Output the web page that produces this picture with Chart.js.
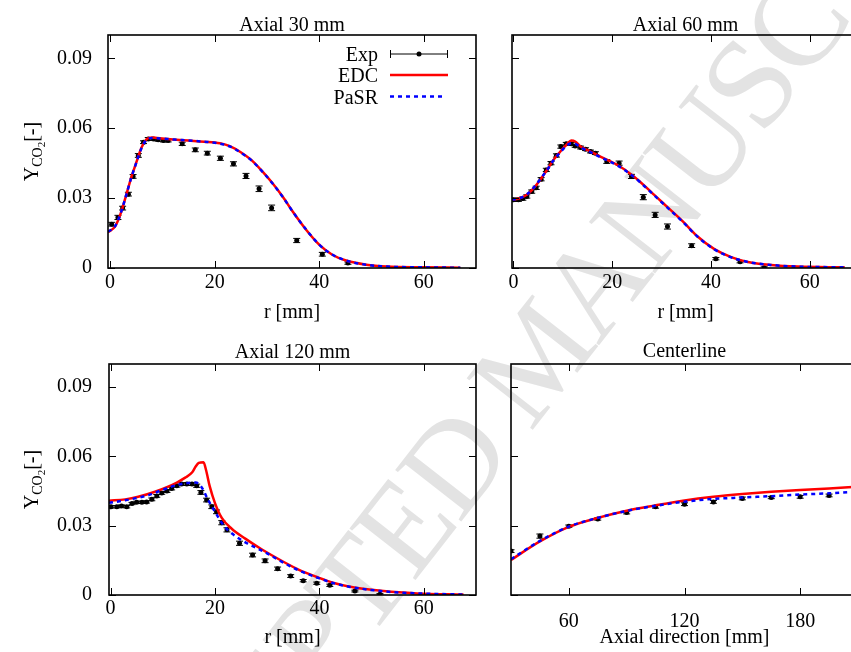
<!DOCTYPE html>
<html>
<head>
<meta charset="utf-8">
<title>Y_CO2 profiles</title>
<script src="https://cdn.jsdelivr.net/npm/chart.js@4.4.0/dist/chart.umd.min.js"></script>
<style>
  html, body { margin: 0; padding: 0; background: #fff; overflow: hidden; }
  #page { position: relative; width: 851px; height: 652px; overflow: hidden; }
  canvas { position: absolute; }
  #wm {
    position: absolute; left: 536px; top: 356px;
    font-family: 'Liberation Serif', serif; font-size: 128px; line-height: 1;
    letter-spacing: -4px;
    color: #e3e3e3; white-space: nowrap;
    transform: translate(-50%, -50%) rotate(-52deg);
  }
</style>
</head>
<body>
<div id="page">
  <div id="wm">ACCEPTED MANUSCRIPT</div>
  <canvas id="c30" width="480" height="330" style="left:0;top:0"></canvas>
  <canvas id="c60" width="400" height="330" style="left:480px;top:0"></canvas>
  <canvas id="c120" width="480" height="322" style="left:0;top:330px"></canvas>
  <canvas id="cCl" width="400" height="322" style="left:480px;top:330px"></canvas>
</div>
<script>
// tick labels
const yTicks = [0, 0.03, 0.06, 0.09];
const rTicks = [0, 20, 40, 60];
const zTicks = [60, 120, 180];

// Axial 30 mm
const r30Exp = [0.3, 1.5, 2.4, 3.5, 4.4, 5.4, 6.4, 7.3, 8.3, 9.2, 10.2, 11.1, 13.8, 16.3, 18.6, 21.1, 23.6, 26.0, 28.5, 30.9, 35.7, 40.6, 45.5];
const y30Exp = [0.0188, 0.0217, 0.0257, 0.0317, 0.0393, 0.0483, 0.0540, 0.0554, 0.0554, 0.0550, 0.0547, 0.0547, 0.0533, 0.0507, 0.0493, 0.0471, 0.0447, 0.0395, 0.0340, 0.0258, 0.0118, 0.0059, 0.0021];
const e30Exp = [0.0008, 0.0009, 0.0008, 0.0008, 0.0008, 0.0008, 0.0006, 0.0006, 0.0006, 0.0006, 0.0006, 0.0006, 0.0007, 0.0008, 0.0008, 0.0009, 0.0009, 0.0011, 0.0012, 0.0012, 0.0009, 0.0008, 0.0005];
const r30Mod = [-0.4, 1, 2, 3, 4, 5, 6, 7, 8, 9, 12, 15, 18, 21, 23, 25, 27, 29, 31, 33, 35, 37.5, 40, 42.5, 45, 49, 53, 60, 67];
const y30Edc = [0.0153, 0.0180, 0.0232, 0.0306, 0.0385, 0.0452, 0.0516, 0.0553, 0.0560, 0.0558, 0.0552, 0.0547, 0.0542, 0.0535, 0.0522, 0.0497, 0.0464, 0.0418, 0.0366, 0.0307, 0.0240, 0.0164, 0.0100, 0.0057, 0.0033, 0.0014, 0.0006, 0.0003, 0.0001];
const y30Pasr = [0.0155, 0.0181, 0.0233, 0.0306, 0.0384, 0.0451, 0.0514, 0.0551, 0.0558, 0.0557, 0.0552, 0.0547, 0.0542, 0.0534, 0.0521, 0.0495, 0.0463, 0.0417, 0.0365, 0.0306, 0.0240, 0.0165, 0.0100, 0.0058, 0.0033, 0.0014, 0.0006, 0.0003, 0.0001];

// Axial 60 mm
const r60Exp = [0, 1.0, 1.9, 2.7, 3.7, 4.6, 5.6, 6.65, 7.6, 8.7, 9.6, 10.7, 11.7, 12.5, 13.6, 14.6, 15.6, 16.6, 18.9, 21.4, 23.9, 26.3, 28.7, 31.2, 36.1, 41.0, 45.9, 50.8];
const y60Exp = [0.0293, 0.0293, 0.0298, 0.0307, 0.0328, 0.0344, 0.0381, 0.0421, 0.0450, 0.0483, 0.0521, 0.0533, 0.0533, 0.0524, 0.0517, 0.0510, 0.0500, 0.0493, 0.0457, 0.0450, 0.0393, 0.0304, 0.0228, 0.0178, 0.0096, 0.0040, 0.0027, 0.0001];
const e60Exp = [0.0007, 0.0007, 0.0007, 0.0007, 0.0007, 0.0007, 0.0007, 0.0007, 0.0007, 0.0007, 0.0007, 0.0006, 0.0006, 0.0006, 0.0006, 0.0006, 0.0006, 0.0006, 0.0008, 0.0009, 0.0009, 0.0011, 0.0011, 0.0011, 0.0008, 0.0005, 0.0005, 0.0004];
const r60Mod = [-0.3, 1.4, 2.7, 4.1, 5.4, 6.8, 8.1, 9.5, 10.9, 11.7, 12.5, 13.6, 15.6, 17.6, 21, 24.4, 27.8, 31.2, 34.3, 37.3, 40.7, 44.1, 47.5, 52.2, 57.6, 67.1];
const y60Edc = [0.0293, 0.0300, 0.0314, 0.0343, 0.0378, 0.0421, 0.0464, 0.0500, 0.0533, 0.0547, 0.0543, 0.0521, 0.0500, 0.0478, 0.0443, 0.0393, 0.0328, 0.0261, 0.0200, 0.0135, 0.0081, 0.0047, 0.0026, 0.0013, 0.0006, 0.0003];
const y60Pasr = [0.0293, 0.0301, 0.0316, 0.0345, 0.0380, 0.0421, 0.0462, 0.0497, 0.0527, 0.0535, 0.0533, 0.0518, 0.0497, 0.0476, 0.0441, 0.0391, 0.0326, 0.0259, 0.0198, 0.0134, 0.0080, 0.0046, 0.0026, 0.0013, 0.0006, 0.0003];

// Axial 120 mm
const r120Exp = [0.1, 1.2, 2.1, 3.1, 4.1, 5.0, 6.0, 6.9, 7.9, 8.85, 9.8, 10.8, 11.7, 12.7, 13.6, 14.6, 15.6, 16.5, 17.3, 18.4, 19.4, 20.3, 21.3, 22.3, 24.7, 27.2, 29.6, 32.0, 34.5, 36.9, 39.5, 42.0, 46.8, 51.6];
const y120Exp = [0.0382, 0.0382, 0.0385, 0.0382, 0.0396, 0.0401, 0.0401, 0.0403, 0.0414, 0.0429, 0.0442, 0.0450, 0.0461, 0.0473, 0.0480, 0.0480, 0.0480, 0.0473, 0.0444, 0.0411, 0.0382, 0.0360, 0.0313, 0.0282, 0.0224, 0.0173, 0.0148, 0.0114, 0.0082, 0.0062, 0.0051, 0.0042, 0.0017, 0.0003];
const e120Exp = [0.0005, 0.0005, 0.0005, 0.0005, 0.0005, 0.0005, 0.0005, 0.0005, 0.0006, 0.0006, 0.0006, 0.0006, 0.0006, 0.0006, 0.0006, 0.0006, 0.0006, 0.0007, 0.0008, 0.0008, 0.0008, 0.0008, 0.0009, 0.0009, 0.0009, 0.0008, 0.0008, 0.0007, 0.0006, 0.0005, 0.0005, 0.0005, 0.0004, 0.0003];
const r120Edc = [-0.3, 2.8, 5.3, 8.5, 10.8, 12.7, 14.3, 15.6, 16.3, 16.9, 17.8, 18.3, 19.0, 20.0, 21.3, 23.2, 25.8, 29.0, 33.1, 36.2, 39.4, 42.6, 45.9, 52.3, 58.7, 67.6];
const y120Edc = [0.0408, 0.0414, 0.0425, 0.0447, 0.0467, 0.0487, 0.0508, 0.0530, 0.0556, 0.0572, 0.0575, 0.0540, 0.0470, 0.0398, 0.0334, 0.0287, 0.0244, 0.0197, 0.0144, 0.0108, 0.0079, 0.0053, 0.0036, 0.0017, 0.0007, 0.0002];
const r120Pasr = [-0.3, 2.8, 7.2, 9.8, 12.7, 14.8, 16.3, 17.4, 18.7, 20.0, 21.6, 23.2, 26.3, 29.2, 33.1, 36.2, 39.4, 42.6, 45.9, 52.3, 58.7, 67.6];
const y120Pasr = [0.0399, 0.0410, 0.0432, 0.0454, 0.0476, 0.0485, 0.0487, 0.0468, 0.0411, 0.0360, 0.0303, 0.0267, 0.0222, 0.0190, 0.0140, 0.0105, 0.0077, 0.0052, 0.0035, 0.0016, 0.0007, 0.0002];

// Centerline
const zExp = [30, 45, 60, 75, 90, 105, 120, 135, 150, 165, 180, 195];
const yClExp = [0.0190, 0.0255, 0.0298, 0.0329, 0.0357, 0.0382, 0.0393, 0.0403, 0.0418, 0.0422, 0.0425, 0.0431];
const eClExp = [0.0006, 0.0009, 0.0005, 0.0005, 0.0006, 0.0006, 0.0006, 0.0006, 0.0006, 0.0005, 0.0006, 0.0006];
const zMod = [30, 45, 60, 75, 90, 105, 120, 135, 150, 165, 180, 195, 210];
const yClEdc = [0.0152, 0.0232, 0.0295, 0.0334, 0.0365, 0.0388, 0.0409, 0.0425, 0.0437, 0.0447, 0.0455, 0.0461, 0.0469];
const yClPasr = [0.0155, 0.0234, 0.0296, 0.0334, 0.0364, 0.0386, 0.0404, 0.0416, 0.0422, 0.0428, 0.0435, 0.0440, 0.0447];

Chart.defaults.font.family = "'Liberation Serif', 'Times New Roman', serif";
Chart.defaults.font.size = 20;
Chart.defaults.color = '#000';

let pts = (xs, ys) => xs.map((x, i) => ({ x: x, y: ys[i] }));

let panels = [
  { id: 'c30', w: 480, h: 330, l: 108, r: 476, t: 35, b: 268, xMin: -0.4, xMax: 70, xTicks: rTicks,
    title: 'Axial 30 mm', titleY: 31, xTitle: 'r [mm]', xTitleY: 318, yLabel: true, legend: true, xPad: 3, yPad: 16,
    exp: [r30Exp, y30Exp, e30Exp], edc: [r30Mod, y30Edc], pasr: [r30Mod, y30Pasr] },
  { id: 'c60', w: 400, h: 330, l: 32, r: 379, t: 35, b: 268, xMin: -0.3, xMax: 70, xTicks: rTicks,
    title: 'Axial 60 mm', titleY: 31, xTitle: 'r [mm]', xTitleY: 318, yLabel: false, legend: false, xPad: 3, yPad: 16,
    exp: [r60Exp, y60Exp, e60Exp], edc: [r60Mod, y60Edc], pasr: [r60Mod, y60Pasr] },
  { id: 'c120', w: 480, h: 322, l: 109, r: 476, t: 34, b: 265, xMin: -0.3, xMax: 70, xTicks: rTicks,
    title: 'Axial 120 mm', titleY: 27.5, xTitle: 'r [mm]', xTitleY: 313, yLabel: true, legend: false, xPad: 2, yPad: 17,
    exp: [r120Exp, y120Exp, e120Exp], edc: [r120Edc, y120Edc], pasr: [r120Pasr, y120Pasr] },
  { id: 'cCl', w: 400, h: 322, l: 31, r: 378, t: 34, b: 265, xMin: 30, xMax: 210, xTicks: zTicks,
    title: 'Centerline', titleY: 27, xTitle: 'Axial direction [mm]', xTitleY: 313, yLabel: false, legend: false, xPad: 15, yPad: 16,
    exp: [zExp, yClExp, eClExp], edc: [zMod, yClEdc], pasr: [zMod, yClPasr] },
];

// error bars under the experimental dots
let errorBars = {
  id: 'errorBars',
  beforeDatasetsDraw(chart) {
    let ds = chart.data.datasets[0];
    let meta = chart.getDatasetMeta(0);
    let ys = chart.scales.y;
    let a = chart.chartArea;
    let ctx = chart.ctx;
    ctx.save();
    ctx.beginPath();
    ctx.rect(a.left, a.top, a.right - a.left, a.bottom - a.top);
    ctx.clip();
    ctx.strokeStyle = '#000';
    ctx.lineWidth = 1;
    meta.data.forEach((p, i) => {
      let v = ds.data[i].y;
      let y1 = ys.getPixelForValue(v - ds.err[i]);
      let y2 = ys.getPixelForValue(v + ds.err[i]);
      ctx.beginPath();
      ctx.moveTo(p.x, y1); ctx.lineTo(p.x, y2);
      ctx.moveTo(p.x - 3.5, y1); ctx.lineTo(p.x + 3.5, y1);
      ctx.moveTo(p.x - 3.5, y2); ctx.lineTo(p.x + 3.5, y2);
      ctx.stroke();
    });
    ctx.restore();
  }
};

// gnuplot-like frame, inward ticks, titles, legend
let makeFrame = (p) => ({
  id: 'frame',
  afterDraw(chart) {
    let ctx = chart.ctx;
    let a = chart.chartArea;
    let xs = chart.scales.x, ys = chart.scales.y;
    ctx.save();
    ctx.strokeStyle = '#000';
    ctx.lineWidth = 1;
    ctx.beginPath();
    p.xTicks.forEach(v => {
      let px = Math.round(xs.getPixelForValue(v)) + 0.5;
      ctx.moveTo(px, a.bottom); ctx.lineTo(px, a.bottom - 7);
      ctx.moveTo(px, a.top); ctx.lineTo(px, a.top + 7);
    });
    yTicks.forEach(v => {
      let py = Math.round(ys.getPixelForValue(v)) + 0.5;
      ctx.moveTo(a.left, py); ctx.lineTo(a.left + 7, py);
      ctx.moveTo(a.right, py); ctx.lineTo(a.right - 7, py);
    });
    ctx.stroke();
    ctx.lineWidth = 1.6;
    ctx.strokeRect(a.left, a.top, a.right - a.left, a.bottom - a.top);

    ctx.fillStyle = '#000';
    ctx.font = "20px 'Liberation Serif'";
    ctx.textAlign = 'center';
    ctx.textBaseline = 'alphabetic';
    let cx = (a.left + a.right) / 2;
    ctx.fillText(p.title, cx, p.titleY);
    ctx.fillText(p.xTitle, cx, p.xTitleY);

    if (p.yLabel) {
      ctx.save();
      ctx.translate(38, (a.top + a.bottom) / 2);
      ctx.rotate(-Math.PI / 2);
      ctx.textAlign = 'left';
      let parts = [['Y', 20, 0], ['CO', 14, 4], ['2', 11, 7], ['[-]', 20, 0]];
      let total = 0;
      parts.forEach(q => { ctx.font = q[1] + "px 'Liberation Serif'"; total += ctx.measureText(q[0]).width; });
      let x = -total / 2;
      parts.forEach(q => {
        ctx.font = q[1] + "px 'Liberation Serif'";
        ctx.fillText(q[0], x, q[2]);
        x += ctx.measureText(q[0]).width;
      });
      ctx.restore();
    }

    if (p.legend) {
      let tx = 378, x0 = 390, x1 = 448;
      let rows = [53.5, 75, 96.5];
      ctx.font = "20px 'Liberation Serif'";
      ctx.textAlign = 'right';
      ['Exp', 'EDC', 'PaSR'].forEach((s, i) => ctx.fillText(s, tx, rows[i] + 7));
      // Exp sample
      ctx.lineWidth = 1;
      ctx.beginPath();
      ctx.moveTo(x0, rows[0] + 0.5); ctx.lineTo(x1, rows[0] + 0.5);
      ctx.moveTo(x0 + 0.5, rows[0] - 3.5); ctx.lineTo(x0 + 0.5, rows[0] + 4.5);
      ctx.moveTo(x1 - 0.5, rows[0] - 3.5); ctx.lineTo(x1 - 0.5, rows[0] + 4.5);
      ctx.stroke();
      ctx.beginPath();
      ctx.arc((x0 + x1) / 2, rows[0] + 0.5, 2.5, 0, Math.PI * 2);
      ctx.fill();
      // EDC sample
      ctx.lineWidth = 2.5;
      ctx.strokeStyle = '#ff0000';
      ctx.beginPath(); ctx.moveTo(x0, rows[1]); ctx.lineTo(x1, rows[1]); ctx.stroke();
      // PaSR sample
      ctx.strokeStyle = '#0000ff';
      ctx.setLineDash([4, 4]);
      ctx.beginPath(); ctx.moveTo(x0, rows[2]); ctx.lineTo(x1 - 4, rows[2]); ctx.stroke();
      ctx.setLineDash([]);
    }
    ctx.restore();
  }
});

panels.forEach(p => {
  let expSet = {
    label: 'Exp', data: pts(p.exp[0], p.exp[1]), err: p.exp[2],
    showLine: false, pointRadius: 2.5, pointHoverRadius: 2.5,
    pointBackgroundColor: '#000', pointBorderWidth: 0, order: 3
  };
  let edcSet = {
    label: 'EDC', data: pts(p.edc[0], p.edc[1]), showLine: true,
    borderColor: '#ff0000', borderWidth: 2.5, pointRadius: 0,
    cubicInterpolationMode: 'monotone', order: 2
  };
  let pasrSet = {
    label: 'PaSR', data: pts(p.pasr[0], p.pasr[1]), showLine: true,
    borderColor: '#0000ff', borderWidth: 2.5, borderDash: [4, 4], pointRadius: 0,
    cubicInterpolationMode: 'monotone', order: 1
  };

  new Chart(document.getElementById(p.id), {
    type: 'scatter',
    data: { datasets: [expSet, edcSet, pasrSet] },
    options: {
      responsive: false,
      animation: false,
      devicePixelRatio: 1,
      layout: { padding: { left: 0, top: p.t, right: p.w - p.r, bottom: 0 } },
      plugins: { legend: { display: false }, tooltip: { enabled: false } },
      scales: {
        x: {
          type: 'linear', min: p.xMin, max: p.xMax,
          grid: { display: false, drawTicks: false }, border: { display: false },
          afterBuildTicks: s => { s.ticks = p.xTicks.map(v => ({ value: v })); },
          afterFit: s => { s.height = p.h - p.b; },
          ticks: { padding: p.xPad, maxRotation: 0, callback: v => String(v) }
        },
        y: {
          type: 'linear', min: 0, max: 0.1,
          grid: { display: false, drawTicks: false }, border: { display: false },
          afterBuildTicks: s => { s.ticks = yTicks.map(v => ({ value: v })); },
          afterFit: s => { s.width = p.l; },
          ticks: { display: p.yLabel, padding: p.yPad, callback: v => (v === 0 ? '0' : v.toFixed(2)) }
        }
      }
    },
    plugins: [errorBars, makeFrame(p)]
  });
});
</script>
</body>
</html>
